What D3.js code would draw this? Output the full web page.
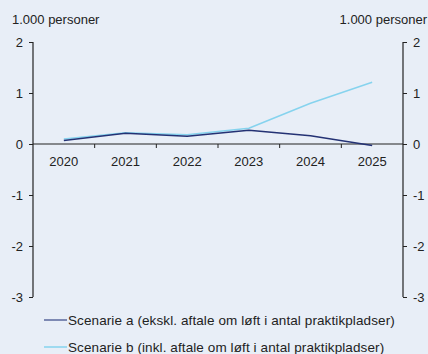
<!DOCTYPE html>
<html>
<head>
<meta charset="utf-8">
<script src="https://cdn.jsdelivr.net/npm/d3@7"></script>
<style>
  html, body { margin: 0; padding: 0; background: #e8eef7; }
  svg { display: block; font-family: "Liberation Sans", Arial, sans-serif; }
</style>
</head>
<body>
<svg id="chart" width="428" height="354"></svg>
<script>
// Years on the category axis
const years = ["2020", "2021", "2022", "2023", "2024", "2025"];
// Scenario a: excluding the agreement on more apprenticeship places (1,000 persons)
const scenarioA = [0.07, 0.21, 0.15, 0.27, 0.16, -0.03];
// Scenario b: including the agreement (1,000 persons)
const scenarioB = [0.10, 0.22, 0.18, 0.31, 0.80, 1.21];
// Value axis ticks
const yTicks = [2, 1, 0, -1, -2, -3];
const seriesNames = [
  "Scenarie a (ekskl. aftale om løft i antal praktikpladser)",
  "Scenarie b (inkl. aftale om løft i antal praktikpladser)"
];
const seriesColors = ["#243274", "#86d3ee"];

(function draw() {
  const svg = d3.select("#chart");
  const plotLeft = 33, plotRight = 403, plotTop = 42, plotBottom = 297;

  const x = d3.scaleBand().domain(years).range([plotLeft, plotRight]);
  const y = d3.scaleLinear().domain([-3, 2]).range([plotBottom, plotTop]);

  const axisColor = "#222";
  const textColor = "#222";
  const fmt = d => String(d); // plain hyphen for negatives

  // Left and right value axes
  const yl = svg.append("g").attr("transform", `translate(${plotLeft},0)`)
    .call(d3.axisLeft(y).tickValues(yTicks).tickSize(4).tickPadding(6).tickFormat(fmt));
  const yr = svg.append("g").attr("transform", `translate(${plotRight},0)`)
    .call(d3.axisRight(y).tickValues(yTicks).tickSize(4).tickPadding(6).tickFormat(fmt));
  [yl, yr].forEach(g => {
    g.select(".domain").attr("stroke", axisColor).attr("stroke-width", 1.2)
      .attr("d", `M0,${plotTop}V${plotBottom}`);
    g.selectAll(".tick line").attr("stroke", axisColor);
    g.selectAll(".tick text").attr("fill", textColor)
      .style("font-size", "13px").style("font-family", "Liberation Sans, Arial, sans-serif");
  });

  // Category axis at zero, with ticks between years
  const xg = svg.append("g").attr("transform", `translate(0,${y(0)})`);
  xg.append("line").attr("x1", plotLeft).attr("x2", plotRight)
    .attr("stroke", axisColor).attr("stroke-width", 1.2);
  xg.selectAll("line.sep").data(years.slice(1)).enter().append("line")
    .attr("class", "sep")
    .attr("x1", d => x(d)).attr("x2", d => x(d))
    .attr("y1", 0).attr("y2", 4).attr("stroke", axisColor);
  xg.selectAll("text").data(years).enter().append("text")
    .attr("x", d => x(d) + x.bandwidth() / 2)
    .attr("y", 21.5)
    .attr("text-anchor", "middle")
    .attr("fill", textColor)
    .style("font-size", "13px")
    .text(d => d);

  // Unit labels
  svg.append("text").attr("x", 12).attr("y", 24).attr("fill", textColor)
    .style("font-size", "13px").text("1.000 personer");
  svg.append("text").attr("x", 427).attr("y", 24).attr("fill", textColor)
    .attr("text-anchor", "end").style("font-size", "13px").text("1.000 personer");

  // Lines
  const line = d3.line()
    .x((d, i) => x(years[i]) + x.bandwidth() / 2)
    .y(d => y(d));

  [[scenarioB, seriesColors[1]], [scenarioA, seriesColors[0]]].forEach(([s, c]) => {
    svg.append("path").datum(s)
      .attr("fill", "none")
      .attr("stroke", c)
      .attr("stroke-width", 1.5)
      .attr("stroke-linejoin", "round")
      .attr("d", line);
  });

  // Legend
  const legend = svg.append("g");
  seriesNames.forEach((name, i) => {
    const ly = 320 + i * 27;
    legend.append("line").attr("x1", 44).attr("x2", 67).attr("y1", ly).attr("y2", ly)
      .attr("stroke", i === 0 ? "#5a679c" : seriesColors[1]).attr("stroke-width", 1.5);
    legend.append("text").attr("x", 68).attr("y", ly + 4.5).attr("fill", textColor)
      .style("font-size", "13.5px").style("letter-spacing", "0.1px").text(name);
  });
})();
</script>
</body>
</html>
